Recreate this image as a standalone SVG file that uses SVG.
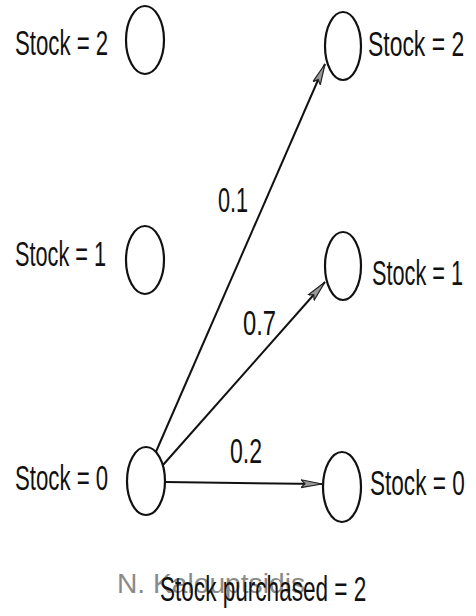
<svg xmlns="http://www.w3.org/2000/svg" width="476" height="616" viewBox="0 0 476 616">
<style>
.st{fill:#fff;stroke:#111;stroke-width:2.2}
.lb{font-family:"Liberation Sans",Arial,sans-serif;font-size:35px;fill:#111}
.ed{stroke:#111;stroke-width:2;fill:none}
.wm{font-family:"Liberation Sans",Arial,sans-serif;font-size:27px;fill:#8a8a8a}
</style>
<defs>
<marker id="arr" viewBox="0 0 22 10" refX="21" refY="5" markerWidth="22" markerHeight="10" markerUnits="userSpaceOnUse" orient="auto">
<path d="M0,1 L21,5 L0,9 L4,5 Z" fill="#999" stroke="#222" stroke-width="1.2"/>
</marker>
</defs>
<rect width="476" height="616" fill="#fff"/>
<g id="connectors">
<line class="ed" x1="155" y1="454" x2="325" y2="64" marker-end="url(#arr)"/>
<line class="ed" x1="163" y1="465" x2="325" y2="282" marker-end="url(#arr)"/>
<line class="ed" x1="165" y1="482" x2="322" y2="484" marker-end="url(#arr)"/>
<text class="lb" transform="translate(218,212) scale(0.62,1)">0.1</text>
<text class="lb" transform="translate(243,335) scale(0.68,1)">0.7</text>
<text class="lb" transform="translate(230,463) scale(0.66,1)">0.2</text>
</g>
<g id="n-left2">
<ellipse class="st" cx="145" cy="40" rx="19" ry="34"/>
<text class="lb" transform="translate(15,55) scale(0.635,1)">Stock = 2</text>
</g>
<g id="n-left1">
<ellipse class="st" cx="145" cy="260" rx="19" ry="34"/>
<text class="lb" transform="translate(15,266) scale(0.62,1)">Stock = 1</text>
</g>
<g id="n-left0">
<ellipse class="st" cx="146" cy="481" rx="19" ry="34"/>
<text class="lb" transform="translate(15,490) scale(0.635,1)">Stock = 0</text>
</g>
<g id="n-right2">
<ellipse class="st" cx="343" cy="46" rx="18" ry="34"/>
<text class="lb" transform="translate(368,56) scale(0.655,1)">Stock = 2</text>
</g>
<g id="n-right1">
<ellipse class="st" cx="343" cy="266" rx="18" ry="34"/>
<text class="lb" transform="translate(372,285) scale(0.62,1)">Stock = 1</text>
</g>
<g id="n-right0">
<ellipse class="st" cx="342" cy="487" rx="19" ry="35"/>
<text class="lb" transform="translate(370,495) scale(0.645,1)">Stock = 0</text>
</g>
<g id="caption">
<text class="wm" x="117" y="593" textLength="188" lengthAdjust="spacingAndGlyphs">N. Kalouptsidis</text>
<text class="lb" transform="translate(160,601) scale(0.645,1)">Stock purchased = 2</text>
</g>
</svg>
